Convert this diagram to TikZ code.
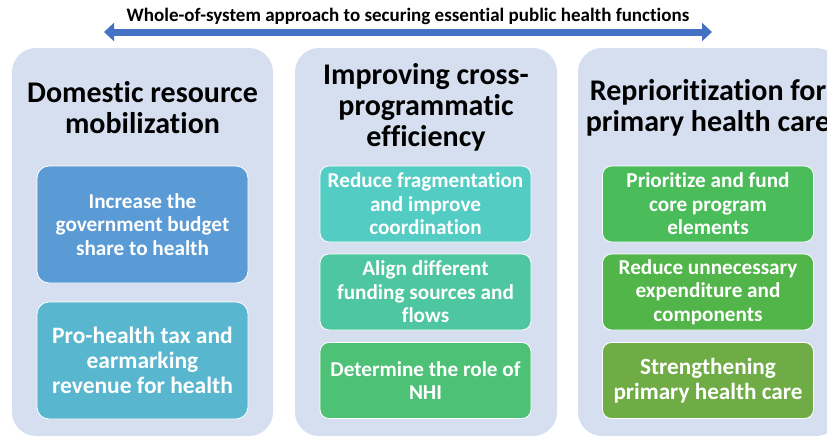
\documentclass[tikz,border=0pt]{standalone}
\usepackage{fontspec}
\setmainfont{Carlito}[Ligatures=NoCommon]
\usetikzlibrary{arrows.meta}

\definecolor{panelbg}{HTML}{D6DFEF}
\definecolor{arrowblue}{HTML}{4472C4}
\definecolor{domA}{HTML}{5B9BD5}
\definecolor{domB}{HTML}{58B6CF}
\definecolor{effA}{HTML}{53CCC4}
\definecolor{effB}{HTML}{4EC6A0}
\definecolor{effC}{HTML}{4DC276}
\definecolor{phcA}{HTML}{4ABC5A}
\definecolor{phcB}{HTML}{52B549}
\definecolor{phcC}{HTML}{70AC46}

\begin{document}
\begin{tikzpicture}[x=1pt,y=-1pt,
  panel/.style={fill=panelbg,rounded corners=24pt},
  head/.style={align=center,font=\fontsize{30}{31}\selectfont\bfseries},
  item/.style={draw=white,line width=0.8pt,rounded corners=9pt,text=white,
    align=center,minimum width=211pt,font=\fontsize{21.2}{23.5}\selectfont\bfseries},
  bigarrow/.style={draw=arrowblue,line width=7pt,
    {Triangle[length=10pt,width=18pt]}-{Triangle[length=10pt,width=18pt]}}]
  \useasboundingbox (0,0) rectangle (827,437);
  \clip (0,0) rectangle (827,437);

  % banner
  \node[font=\fontsize{19}{21}\selectfont\bfseries] (banner) at (408,16)
    {Whole-of-system approach to securing essential public health functions};
  \coordinate (arrowL) at (104,32);
  \coordinate (arrowR) at (712,32);
  \draw[bigarrow] (arrowL) -- (arrowR);

  % panels
  \fill[panel] (12,48) rectangle (273,436);
  \fill[panel] (295,48) rectangle (557,436);
  \fill[panel] (578,48) rectangle (840,436);

  % domestic resource mobilization
  \node[head] (domHead) at (142.5,108) {Domestic resource\\mobilization};
  \node[item,fill=domA,minimum height=117pt,rounded corners=12pt] (dom1) at (142.5,224.5)
    {Increase the\\government budget\\share to health};
  \node[item,fill=domB,minimum height=117pt,rounded corners=12pt,
    font=\fontsize{23.5}{25}\selectfont\bfseries] (dom2) at (142.5,360.5)
    {Pro-health tax and\\earmarking\\revenue for health};

  % cross-programmatic efficiency
  \node[head] (effHead) at (426,107) {Improving cross-\\programmatic\\efficiency};
  \node[item,fill=effA,minimum height=76pt] (eff1) at (425.5,204)
    {Reduce fragmentation\\and improve\\coordination};
  \node[item,fill=effB,minimum height=76pt] (eff2) at (425.5,292)
    {Align different\\funding sources and\\flows};
  \node[item,fill=effC,minimum height=76pt] (eff3) at (425.5,380.5)
    {Determine the role of\\NHI};

  % primary health care
  \node[head] (phcHead) at (708,108) {Reprioritization for\\primary health care};
  \node[item,fill=phcA,minimum height=76pt] (phc1) at (708,204)
    {Prioritize and fund\\core program\\elements};
  \node[item,fill=phcB,minimum height=76pt] (phc2) at (708,292)
    {Reduce unnecessary\\expenditure and\\components};
  \node[item,fill=phcC,minimum height=76pt,
    font=\fontsize{23.2}{25.5}\selectfont\bfseries] (phc3) at (708,380.5)
    {Strengthening\\primary health care};
\end{tikzpicture}
\end{document}
